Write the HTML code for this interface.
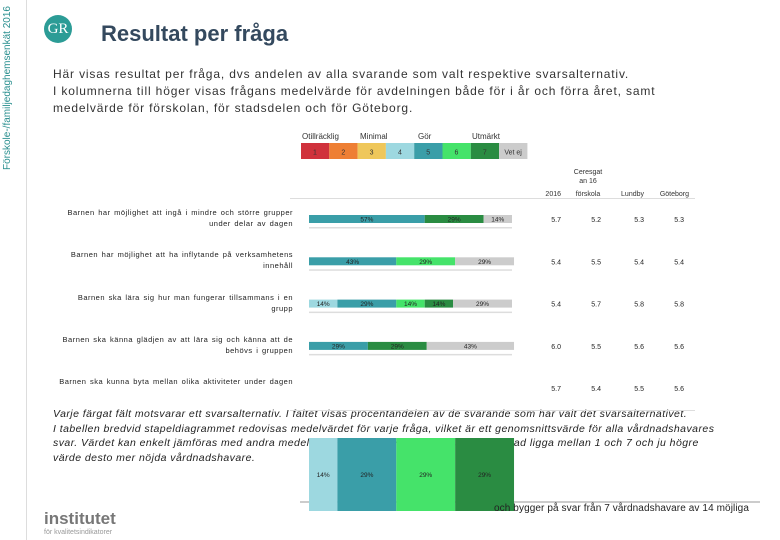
<!DOCTYPE html>
<html><head><meta charset="utf-8"><style>
body{margin:0;width:780px;height:540px;background:#fff;position:relative;overflow:hidden;font-family:"Liberation Sans",sans-serif;color:#222}
.abs{position:absolute}
</style></head><body>
<div class="abs" style="left:2px;top:170px;transform:rotate(-90deg);transform-origin:0 0;font-size:10px;color:#2a8f8f;white-space:nowrap;width:170px">Förskole-/familjedaghemsenkät 2016</div>
<div class="abs" style="left:26px;top:0;width:1px;height:540px;background:#ddd"></div>
<div class="abs" style="left:44px;top:15px;width:28px;height:28px;border-radius:50%;background:#2c9c96;color:#fff;font-family:'Liberation Serif',serif;font-size:15px;line-height:28px;text-align:center">GR</div>
<div class="abs" style="left:101px;top:21px;font-size:22px;font-weight:bold;color:#34495e">Resultat per fråga</div>
<div class="abs" style="left:53px;top:66px;font-size:12px;line-height:17px;color:#333;letter-spacing:0.85px">Här visas resultat per fråga, dvs andelen av alla svarande som valt respektive svarsalternativ.<br>I kolumnerna till höger visas frågans medelvärde för avdelningen både för i år och förra året, samt<br>medelvärde för förskolan, för stadsdelen och för Göteborg.</div>
<div class="abs" style="left:53px;top:407px;font-size:10.5px;line-height:14.5px;font-style:italic;color:#222;letter-spacing:0.45px">Varje färgat fält motsvarar ett svarsalternativ. I fältet visas procentandelen av de svarande som har valt det svarsalternativet.<br>I tabellen bredvid stapeldiagrammet redovisas medelvärdet för varje fråga, vilket är ett genomsnittsvärde för alla vårdnadshavares<br>svar. Värdet kan enkelt jämföras med andra medelvärden och kan enligt skalans uppbyggnad ligga mellan 1 och 7 och ju högre<br>värde desto mer nöjda vårdnadshavare.</div>
<svg class="abs" style="left:0;top:0" width="780" height="540" id="chart"></svg>
<div class="abs" style="left:494px;top:503px;font-size:10px;color:#222;letter-spacing:0.1px">och bygger på svar från 7 vårdnadshavare av 14 möjliga</div>
<div class="abs" style="left:44px;top:509px;font-size:17px;font-weight:bold;color:#777">institutet<div style="font-size:7px;font-weight:normal;color:#999">för kvalitetsindikatorer</div></div>
<script>
const questions=["Barnen har möjlighet att ingå i mindre och större grupper under delar av dagen","Barnen har möjlighet att ha inflytande på verksamhetens innehåll","Barnen ska lära sig hur man fungerar tillsammans i en grupp","Barnen ska känna glädjen av att lära sig och känna att de behövs i gruppen","Barnen ska kunna byta mellan olika aktiviteter under dagen"];
const s1=[0,0,0,0,0],s2=[0,0,0,0,0],s3=[0,0,0,0,0];
const s4=[0,0,14,0,14];
const s5=[57,43,29,29,29];
const s6=[0,29,14,0,29];
const s7=[29,0,14,29,29];
const sNo=[14,29,29,43,0];
const colYear=[5.7,5.4,5.4,6.0,5.7];
const colSchool=[5.2,5.5,5.7,5.5,5.4];
const colDistrict=[5.3,5.4,5.8,5.6,5.5];
const colCity=[5.3,5.4,5.8,5.6,5.6];
const headers=["2016","Ceresgat an 16 förskola","Lundby","Göteborg"];
const legendLabels=["1","2","3","4","5","6","7","Vet ej"];
const colors=["#d0323c","#ee7f34","#efc75a","#9dd8e0","#3a9ea8","#45e36a","#2a8c42","#cccccc"];
const series=[s1,s2,s3,s4,s5,s6,s7,sNo];
const svg=document.getElementById('chart');const NS='http://www.w3.org/2000/svg';
function el(t,a,p){const e=document.createElementNS(NS,t);for(const k in a)e.setAttribute(k,a[k]);(p||svg).appendChild(e);return e;}
const x0=309,W=203;const xs=v=>v/100*W;
const rowY=i=>215+i*42.3;
legendLabels.forEach((l,i)=>{const r=el('rect',{x:301+i*28.3,y:143,width:28.3,height:16,fill:colors[i]});


const t=el('text',{x:301+i*28.3+14,y:154.5,'font-size':7,'text-anchor':'middle',fill:'#333'});t.textContent=l;});
[["Otillräcklig",302],["Minimal",360],["Gör",418],["Utmärkt",472]].forEach(a=>{const t=el('text',{x:a[1],y:139,'font-size':8,fill:'#333'});t.textContent=a[0];});
const hx=[561,601,644,684];
const ht=el('text',{x:hx[0],y:196,'font-size':7,'text-anchor':'end',fill:'#333'});ht.textContent=headers[0];
[["Ceresgat",174],["an 16",183],["förskola",196]].forEach(a=>{const t=el('text',{x:588,y:a[1],'font-size':7,'text-anchor':'middle',fill:'#333'});t.textContent=a[0];});
[[headers[2],644],[headers[3],689]].forEach(a=>{const t=el('text',{x:a[1],y:196,'font-size':7,'text-anchor':'end',fill:'#333'});t.textContent=a[0];});
el('line',{x1:290,x2:695,y1:198.5,y2:198.5,stroke:'#ddd'});
questions.forEach((q,i)=>{const y=rowY(i);
const fo=el('foreignObject',{x:55,y:y-8,width:238,height:30});
const d=document.createElement('div');d.style.cssText='font-size:7.5px;line-height:11px;text-align:right;color:#222;letter-spacing:0.5px;word-spacing:1px';d.textContent=q;fo.appendChild(d);
if(i<4){let cx=x0;series.forEach((s,k)=>{const v=s[i];if(!v)return;const w=xs(v);
const r=el('rect',{x:cx,y:y,width:w,height:8,fill:colors[k]});


const t=el('text',{x:cx+w/2,y:y+6.5,'font-size':6.5,'text-anchor':'middle',fill:'#222'});t.textContent=v+'%';cx+=w;});
el('rect',{x:x0,y:y+12,width:W,height:1.5,fill:'#ddd'});}
[colYear,colSchool,colDistrict,colCity].forEach((c,j)=>{const t=el('text',{x:hx[j],y:y+7,'font-size':7,'text-anchor':'end',fill:'#222'});t.textContent=c[i].toFixed(1);});
});
el('line',{x1:290,x2:695,y1:410.5,y2:410.5,stroke:'#ddd'});
(function(){const i=4;let cx=x0;el('line',{x1:300,x2:760,y1:502,y2:502,stroke:'#999'});
series.forEach((s,k)=>{const v=s[i];if(!v)return;const w=xs(v);
const r=el('rect',{x:cx,y:438,width:w,height:73,fill:colors[k]});


const t=el('text',{x:cx+w/2,y:477,'font-size':6.5,'text-anchor':'middle',fill:'#222'});t.textContent=v+'%';cx+=w;});})();
</script>
</body></html>
